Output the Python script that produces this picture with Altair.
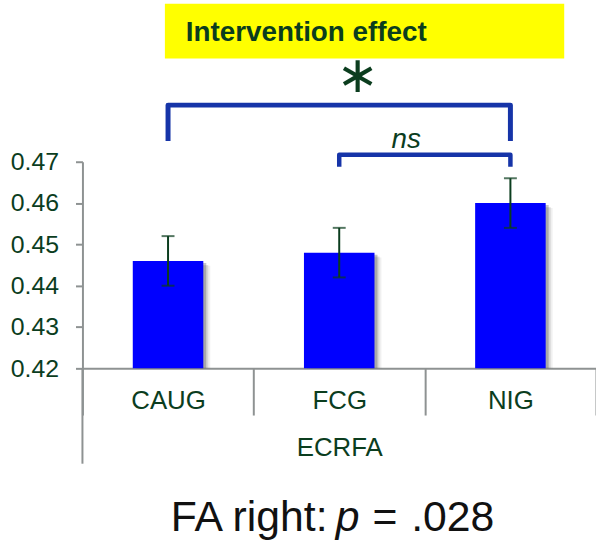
import altair as alt
import pandas as pd

# Mean FA (right) per group with standard-error half widths
groups = ["CAUG", "FCG", "NIG"]
means = [0.446, 0.448, 0.460]
errors = [0.006, 0.006, 0.006]

# Significance brackets (from group, to group, foot level, top level)
bracket_from = ["CAUG", "FCG"]
bracket_to = ["NIG", "NIG"]
bracket_foot = [0.4750, 0.4688]
bracket_top = [0.4837, 0.4717]

y_ticks = [0.42, 0.43, 0.44, 0.45, 0.46, 0.47]

TEXT = "#0B3D1E"
GREY = "#8E9292"
BLUE_LINE = "#1634A8"
FONT = "Liberation Sans"

df = pd.DataFrame({
    "group": groups,
    "mean": means,
    "lo": [m - e for m, e in zip(means, errors)],
    "hi": [m + e for m, e in zip(means, errors)],
})

x_scale = alt.Scale(domain=groups, paddingInner=0, paddingOuter=0)
y_scale = alt.Scale(domain=[0.42, 0.47], nice=False, zero=False)

x_axis = alt.Axis(
    title="ECRFA", labelAngle=0, labelFont=FONT, labelFontSize=26,
    labelColor=TEXT, labelPadding=-15, labelBaseline="middle",
    titleFont=FONT, titleFontSize=26, titleFontWeight="normal", titleColor=TEXT,
    titleY=80, titleBaseline="middle",
    domainColor=GREY, domainWidth=2, tickColor=GREY, tickWidth=2,
    tickSize=47, tickBand="extent",
)
y_axis = alt.Axis(
    title=None, values=y_ticks, format=".2f", grid=False,
    labelFont=FONT, labelFontSize=25, labelColor=TEXT, labelPadding=17,
    domainColor=GREY, domainWidth=2, tickColor=GREY, tickWidth=2, tickSize=7,
)

X = alt.X("group:N", scale=x_scale, axis=x_axis, sort=groups)
base = alt.Chart(df)

# soft drop shadow behind each bar
shadows = [
    base.mark_bar(size=71, color="#404040", opacity=op, xOffset=dx, yOffset=dy, y2Offset=0)
    .encode(x=X, y=alt.Y("mean:Q", scale=y_scale, axis=y_axis), y2=alt.datum(0.42))
    for dx, dy, op in [(7, 5, 0.08), (5, 4, 0.15), (3, 2, 0.3)]
]

bars = base.mark_bar(size=71, color="#0000FF").encode(
    x=X, y=alt.Y("mean:Q", scale=y_scale, axis=y_axis), y2=alt.datum(0.42)
)

err_rule = base.mark_rule(color=TEXT, strokeWidth=2).encode(
    x=alt.X("group:N", scale=x_scale, sort=groups), y="lo:Q", y2="hi:Q"
)
cap_lo = base.mark_tick(color=TEXT, size=13, thickness=2).encode(
    x=alt.X("group:N", scale=x_scale, sort=groups), y="lo:Q"
)
cap_hi = base.mark_tick(color=TEXT, size=13, thickness=2).encode(
    x=alt.X("group:N", scale=x_scale, sort=groups), y="hi:Q"
)

# bracket paths: foot -> top -> top -> foot
rows = []
for i, (a, b, f, t) in enumerate(zip(bracket_from, bracket_to, bracket_foot, bracket_top)):
    rows += [
        {"b": i, "o": 0, "group": a, "v": f},
        {"b": i, "o": 1, "group": a, "v": t},
        {"b": i, "o": 2, "group": b, "v": t},
        {"b": i, "o": 3, "group": b, "v": f},
    ]
bracket_df = pd.DataFrame(rows)
brackets = alt.Chart(bracket_df).mark_line(
    color=BLUE_LINE, strokeJoin="round", strokeCap="butt", clip=False
).encode(
    x=alt.X("group:N", scale=x_scale, sort=groups),
    y=alt.Y("v:Q", scale=y_scale),
    detail="b:N",
    order="o:Q",
    strokeWidth=alt.condition("datum.b == 0", alt.value(5), alt.value(4.5)),
)

# y-axis line continuing down past the category labels
axis_ext = alt.Chart(pd.DataFrame({"k": [0]})).mark_rule(color=GREY, strokeWidth=2).encode(
    x=alt.value(0), y=alt.value(208), y2=alt.value(304)
)

# highlighted header
box = alt.Chart(pd.DataFrame({"k": [0]})).mark_rect(color="#FFFF00").encode(
    x=alt.value(83), x2=alt.value(485), y=alt.value(-159), y2=alt.value(-104)
)
header = alt.Chart(pd.DataFrame({"t": ["Intervention effect"]})).mark_text(
    font=FONT, fontSize=28, fontWeight="bold", color=TEXT, align="left", baseline="middle"
).encode(x=alt.value(104), y=alt.value(-130), text="t:N")

star = alt.Chart(pd.DataFrame({"t": ["∗"]})).mark_text(
    font="DejaVu Sans", fontSize=51, color=TEXT, align="center", baseline="middle"
).encode(x=alt.value(277), y=alt.value(-85), text="t:N")

ns = alt.Chart(pd.DataFrame({"t": ["ns"]})).mark_text(
    font=FONT, fontSize=28, fontStyle="italic", color=TEXT, align="center", baseline="alphabetic"
).encode(x=alt.value(326), y=alt.value(-14), text="t:N")

# caption with italic p, each piece placed at its own left edge
cap_parts = ["FA right:", "p", "=", ".028"]
cap_x = [89, 255, 292, 331]
caption = [
    alt.Chart(pd.DataFrame({"t": [txt]})).mark_text(
        font=FONT, fontSize=43, color="#111111", align="left", baseline="alphabetic",
        fontStyle="italic" if txt == "p" else "normal",
    ).encode(x=alt.value(x0), y=alt.value(372), text="t:N")
    for txt, x0 in zip(cap_parts, cap_x)
]

chart = alt.layer(
    *shadows, bars, err_rule, cap_lo, cap_hi, brackets, axis_ext, box, header, star, ns, *caption
).properties(
    width=517, height=208,
    autosize=alt.AutoSizeParams(type="none"),
    padding={"left": 83, "top": 161, "right": 0, "bottom": 173},
).configure_view(stroke=None).configure_axis(zindex=1)

chart.save("out.html", embed_options={"renderer": "svg", "actions": False})
